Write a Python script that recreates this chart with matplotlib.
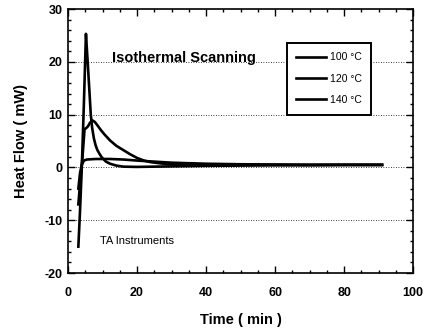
import matplotlib
matplotlib.use("Agg")
import matplotlib.pyplot as plt
from matplotlib.ticker import MultipleLocator

plt.rcParams['font.family'] = ['Liberation Sans', 'DejaVu Sans']
plt.rcParams['axes.unicode_minus'] = False

# Data (time in min, heat flow in mW)
t_100 = [3.0, 3.5, 4.0, 4.6, 5.5, 8, 12, 16, 20, 25, 30, 35, 40, 50, 60, 70, 80, 91]
hf_100 = [-4, -1, 0.5, 1.3, 1.5, 1.6, 1.6, 1.5, 1.3, 1.1, 0.9, 0.8, 0.7, 0.6, 0.55, 0.5, 0.5, 0.5]

t_120 = [3.0, 3.5, 4.2, 4.8, 5.2, 5.8, 6.4, 7.1, 7.8, 8.5, 9.5, 10.5, 12.2, 14, 16, 18, 20, 22, 24, 27, 30, 35, 40, 50, 60, 70, 80, 91]
hf_120 = [-7, -3, 2, 7.3, 7.4, 7.8, 8.5, 8.9, 8.6, 8.0, 7.1, 6.3, 5.1, 4.1, 3.3, 2.5, 1.8, 1.3, 1.0, 0.75, 0.6, 0.55, 0.5, 0.5, 0.5, 0.5, 0.5, 0.5]

t_140 = [3.0, 3.5, 4.0, 4.6, 5.2, 5.7, 6.2, 6.6, 7.0, 7.5, 8.0, 8.5, 9.2, 9.8, 11, 12.2, 14, 16, 20, 25, 30, 40, 50, 60, 70, 80, 91]
hf_140 = [-15, -8, 0, 12, 25.3, 20, 14.5, 10, 7.5, 5.5, 4.2, 3.3, 2.5, 1.9, 1.1, 0.7, 0.35, 0.15, 0.1, 0.15, 0.2, 0.3, 0.35, 0.4, 0.4, 0.45, 0.45]

labels = ["100 °C", "120 °C", "140 °C"]
grid_levels = [20, 10, 0, -10]

fig = plt.figure(figsize=(4.25, 3.35), dpi=100)
ax = fig.add_axes([0.16, 0.185, 0.812, 0.788])

for t, hf, lab in [(t_100, hf_100, labels[0]), (t_120, hf_120, labels[1]), (t_140, hf_140, labels[2])]:
    ax.plot(t, hf, color='black', lw=1.9, label=lab, solid_joinstyle='round')

for g in grid_levels:
    ax.axhline(g, color='black', lw=0.6, ls=(0, (1, 2)), zorder=0)

ax.set_xlim(0, 100)
ax.set_ylim(-20, 30)
ax.xaxis.set_major_locator(MultipleLocator(20))
ax.xaxis.set_minor_locator(MultipleLocator(5))
ax.yaxis.set_major_locator(MultipleLocator(10))
ax.yaxis.set_minor_locator(MultipleLocator(2))
ax.tick_params(which='both', direction='in', top=True, right=True, width=1.0, color='black')
ax.tick_params(which='major', length=5)
ax.tick_params(which='minor', length=2.5)
ax.tick_params(axis='x', which='major', pad=10, labelsize=9)
ax.tick_params(axis='y', which='major', pad=4, labelsize=9)
for lbl in ax.get_xticklabels() + ax.get_yticklabels():
    lbl.set_fontweight('bold')
for s in ax.spines.values():
    s.set_linewidth(1.2)

ax.set_xlabel("Time ( min )", fontsize=10.5, fontweight='bold', labelpad=10)
ax.set_ylabel("Heat Flow ( mW)", fontsize=10.5, fontweight='bold', labelpad=12)

ax.text(12.8, 20.8, "Isothermal Scanning", fontsize=10.5, fontweight='bold', va='center', ha='left')
ax.text(9.3, -14, "TA Instruments", fontsize=8, va='center', ha='left')

leg = ax.legend(loc='upper left', bbox_to_anchor=(0.634, 0.872), fontsize=7.5,
                frameon=True, fancybox=False, edgecolor='black', framealpha=1,
                handlelength=2.9, labelspacing=1.1, borderpad=0.9, handletextpad=0.3,
                borderaxespad=0)
leg.get_frame().set_linewidth(1.4)

fig.savefig("out.png", dpi=100)
